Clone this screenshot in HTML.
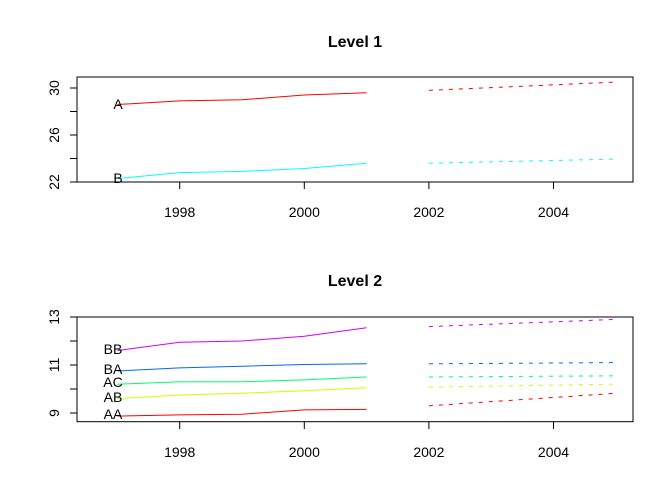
<!DOCTYPE html><html><head><style>body{margin:0;background:#fff}</style></head><body>
<svg width="672" height="480" xmlns="http://www.w3.org/2000/svg" font-family="Liberation Sans, sans-serif" font-size="14">
<rect width="672" height="480" fill="#fff"/>
<text x="355" y="47" text-anchor="middle" font-weight="bold" font-size="16">Level 1</text>
<rect x="77" y="77" width="556" height="105" fill="none" stroke="#000"/>
<g stroke="#000"><line x1="179.7" y1="182" x2="179.7" y2="189"/><line x1="304.3" y1="182" x2="304.3" y2="189"/><line x1="428.9" y1="182" x2="428.9" y2="189"/><line x1="553.5" y1="182" x2="553.5" y2="189"/>
<line x1="70" y1="88" x2="77" y2="88"/><line x1="70" y1="111.5" x2="77" y2="111.5"/><line x1="70" y1="135" x2="77" y2="135"/><line x1="70" y1="158.5" x2="77" y2="158.5"/><line x1="70" y1="182" x2="77" y2="182"/></g>
<g text-anchor="middle"><text x="179.7" y="217">1998</text><text x="304.3" y="217">2000</text><text x="428.9" y="217">2002</text><text x="553.5" y="217">2004</text>
<text transform="translate(59,88) rotate(-90)">30</text><text transform="translate(59,135) rotate(-90)">26</text><text transform="translate(59,182) rotate(-90)">22</text></g>
<g fill="none" stroke-width="1">
<polyline stroke="#f00" points="117.4,104.5 179.7,100.9 242,99.75 304.3,95.05 366.6,92.7"/>
<line stroke="#f00" stroke-dasharray="4,6" x1="428.9" y1="90.35" x2="615.8" y2="82.1"/>
<polyline stroke="#0ff" points="117.4,178.5 179.7,172.6 242,171.4 304.3,168.5 366.6,163.2"/>
<line stroke="#0ff" stroke-dasharray="4,6" x1="428.9" y1="163.2" x2="615.8" y2="159.1"/>
</g>
<g text-anchor="middle"><text x="118" y="109">A</text><text x="118" y="183">B</text></g>

<text x="355" y="286" text-anchor="middle" font-weight="bold" font-size="16">Level 2</text>
<rect x="77" y="317" width="556" height="104.7" fill="none" stroke="#000"/>
<g stroke="#000"><line x1="179.7" y1="421.7" x2="179.7" y2="429"/><line x1="304.3" y1="421.7" x2="304.3" y2="429"/><line x1="428.9" y1="421.7" x2="428.9" y2="429"/><line x1="553.5" y1="421.7" x2="553.5" y2="429"/>
<line x1="70" y1="317" x2="77" y2="317"/><line x1="70" y1="341" x2="77" y2="341"/><line x1="70" y1="365" x2="77" y2="365"/><line x1="70" y1="389" x2="77" y2="389"/><line x1="70" y1="413" x2="77" y2="413"/></g>
<g text-anchor="middle"><text x="179.7" y="457">1998</text><text x="304.3" y="457">2000</text><text x="428.9" y="457">2002</text><text x="553.5" y="457">2004</text>
<text transform="translate(59,317) rotate(-90)">13</text><text transform="translate(59,365) rotate(-90)">11</text><text transform="translate(59,413) rotate(-90)">9</text></g>
<g fill="none">
<polyline stroke="#c0f" points="117.4,350.6 179.7,342.2 242,341 304.3,336.2 366.6,327.8"/>
<line stroke="#c0f" stroke-dasharray="4,6" x1="428.9" y1="326.6" x2="615.8" y2="319.4"/>
<polyline stroke="#06f" points="117.4,371 179.7,367.9 242,366.2 304.3,364.5 366.6,363.8"/>
<line stroke="#06f" stroke-dasharray="4,6" x1="428.9" y1="363.8" x2="615.8" y2="362.6"/>
<polyline stroke="#0f6" points="117.4,384.2 179.7,381.8 242,381.8 304.3,379.9 366.6,377"/>
<line stroke="#0f6" stroke-dasharray="4,6" x1="428.9" y1="377" x2="615.8" y2="375.8"/>
<polyline stroke="#cf0" points="117.4,398.6 179.7,395 242,393.3 304.3,390.7 366.6,387.8"/>
<line stroke="#cf0" stroke-dasharray="4,6" x1="428.9" y1="387.1" x2="615.8" y2="384.2"/>
<polyline stroke="#f00" points="117.4,416.1 179.7,414.9 242,414.2 304.3,409.9 366.6,409.4"/>
<line stroke="#f00" stroke-dasharray="4,6" x1="428.9" y1="405.8" x2="615.8" y2="393.3"/>
</g>
<g text-anchor="middle"><text x="113" y="354">BB</text><text x="113" y="374">BA</text><text x="113" y="387">AC</text><text x="113" y="402">AB</text><text x="113" y="419">AA</text></g>
</svg></body></html>
